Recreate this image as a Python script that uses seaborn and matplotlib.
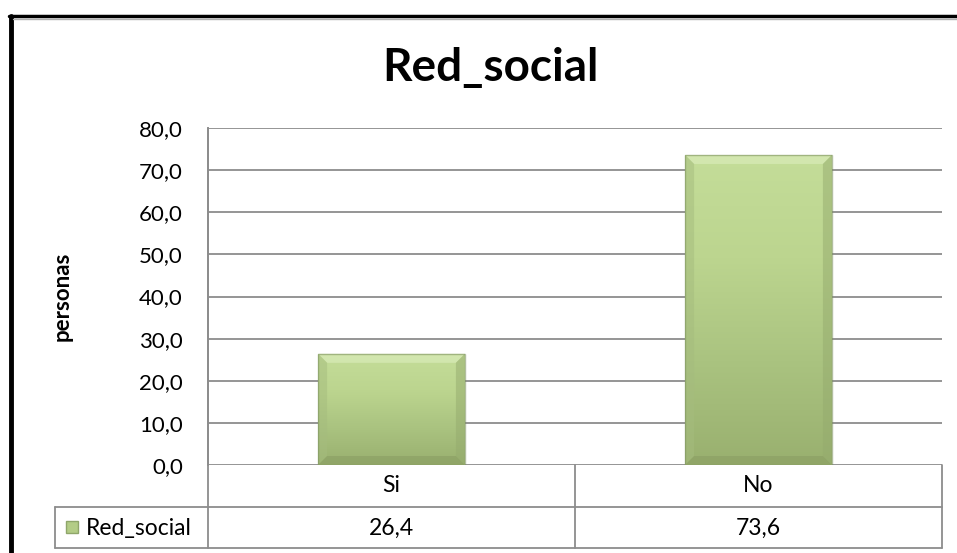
import numpy as np
import matplotlib
matplotlib.use("Agg")
import matplotlib.pyplot as plt
import seaborn as sns
import pandas as pd
from matplotlib.patches import Polygon, Rectangle
from matplotlib.lines import Line2D
from matplotlib.transforms import IdentityTransform
from matplotlib.colors import LinearSegmentedColormap

# ---- data ----
categories = ["Si", "No"]
values = [26.4, 73.6]
value_labels = ["26,4", "73,6"]
series_name = "Red_social"
title = "Red_social"
ylabel = "personas"
yticks = [0, 10, 20, 30, 40, 50, 60, 70, 80]
ytick_labels = ["0,0", "10,0", "20,0", "30,0", "40,0", "50,0", "60,0", "70,0", "80,0"]

sns.set_theme(style="white")
plt.rcParams["font.family"] = ["Lato", "DejaVu Sans"]
plt.rcParams["text.color"] = "black"
plt.rcParams["axes.labelcolor"] = "black"
plt.rcParams["ytick.color"] = "black"
plt.rcParams["xtick.color"] = "black"

W, H = 957, 553
fig = plt.figure(figsize=(W / 100, H / 100), dpi=100)
fig.patch.set_facecolor("white")

def fx(x):
    return x / W

def fy(y):
    return 1 - y / H

L, R, T, B = 208, 942, 128, 465
ax = fig.add_axes([fx(L), fy(B), fx(R) - fx(L), fy(T) - fy(B)])

df = pd.DataFrame({"cat": categories, "val": values})
sns.barplot(data=df, x="cat", y="val", ax=ax, width=0.4, color="#bcd58f",
            edgecolor="none", saturation=1, zorder=3)
ax.set_xlim(-0.5, 1.5)
ax.set_ylim(0, 80)
ax.set_yticks(yticks)
ax.set_yticklabels(ytick_labels, fontsize=16, color="black")
ax.tick_params(axis="y", length=0, pad=18)
ax.set_xticks([])
ax.set_xlabel("")
ax.set_ylabel(ylabel, fontsize=16, fontweight="bold", labelpad=48, color="black")
for s in ["top", "right", "bottom"]:
    ax.spines[s].set_visible(False)
ax.spines["left"].set_color("#8c8c8c")
ax.spines["left"].set_linewidth(1.3)
for yv in yticks:
    ax.axhline(yv, color="#8c8c8c", lw=1.3, zorder=1)

# gradient + bevel on bars
fig.canvas.draw()
grad = np.linspace(0, 1, 256).reshape(-1, 1)
cmap = LinearSegmentedColormap.from_list("g", ["#c4dd99", "#bcd58f", "#aac380", "#99b06f"])
for p in ax.patches:
    x0, y0 = p.get_x(), p.get_y()
    w, h = p.get_width(), p.get_height()
    im = ax.imshow(grad, extent=[x0, x0 + w, y0, y0 + h], origin="upper",
                   cmap=cmap, aspect="auto", zorder=4)
    im.set_clip_path(p)
    (dx0, dy0) = ax.transData.transform((x0, y0))
    (dx1, dy1) = ax.transData.transform((x0 + w, y0 + h))
    b = 9
    ax.add_patch(Polygon([(dx0, dy1), (dx1, dy1), (dx1 - b, dy1 - b), (dx0 + b, dy1 - b)],
                         closed=True, facecolor="#d6e9b4", edgecolor="none", alpha=0.8,
                         transform=IdentityTransform(), zorder=5))
    ax.add_patch(Polygon([(dx0, dy0), (dx0, dy1), (dx0 + b, dy1 - b), (dx0 + b, dy0 + b)],
                         closed=True, facecolor="#a5bc7e", edgecolor="none", alpha=0.5,
                         transform=IdentityTransform(), zorder=5))
    ax.add_patch(Polygon([(dx1, dy0), (dx1, dy1), (dx1 - b, dy1 - b), (dx1 - b, dy0 + b)],
                         closed=True, facecolor="#95ab6e", edgecolor="none", alpha=0.5,
                         transform=IdentityTransform(), zorder=5))
    ax.add_patch(Polygon([(dx0, dy0), (dx1, dy0), (dx1 - b, dy0 + b), (dx0 + b, dy0 + b)],
                         closed=True, facecolor="#8a9e63", edgecolor="none", alpha=0.6,
                         transform=IdentityTransform(), zorder=5))
    ax.add_patch(Rectangle((dx0, dy0), dx1 - dx0, dy1 - dy0, facecolor="none",
                           edgecolor="#7f9460", lw=1.0, alpha=0.6,
                           transform=IdentityTransform(), zorder=6))

# title
fig.text(fx(490), fy(68), title, ha="center", va="center", fontsize=33,
         fontweight="bold", color="black")

# data table
gc = "#8c8c8c"
lw = 1.3
lines = [
    [(L, L), (T, 548)],
    [(575, 575), (B, 548)],
    [(R, R), (B, 548)],
    [(55, R), (507, 507)],
    [(55, R), (548, 548)],
    [(55, 55), (507, 548)],
]
for xs, ys in lines:
    fig.add_artist(Line2D([fx(x) for x in xs], [fy(y) for y in ys], color=gc, lw=lw))

xt = ax.get_xaxis_transform()
axh = B - T
for i, (c, v) in enumerate(zip(categories, value_labels)):
    ax.text(i, -(486 - B) / axh, c, transform=xt, ha="center", va="center",
            fontsize=16.5, color="black", clip_on=False)
    ax.text(i, -(528 - B) / axh, v, transform=xt, ha="center", va="center",
            fontsize=16.5, color="black", clip_on=False)

# legend key
fig.add_artist(Rectangle((fx(66), fy(533)), fx(78) - fx(66), fy(521) - fy(533),
                         facecolor="#b3cc86", edgecolor="#8fa66a", lw=1))
fig.text(fx(86), fy(528), series_name, ha="left", va="center", fontsize=16.5, color="black")

# outer chart border
fig.add_artist(Line2D([fx(10.5), fx(10.5)], [fy(16), 0], color="black", lw=3.5))
fig.add_artist(Line2D([fx(9), 1], [fy(16), fy(16)], color="black", lw=2.5))
fig.add_artist(Line2D([fx(13), 1], [fy(18.5), fy(18.5)], color="#b0b0b0", lw=1))

fig.savefig("out.png", dpi=100, facecolor="white")
